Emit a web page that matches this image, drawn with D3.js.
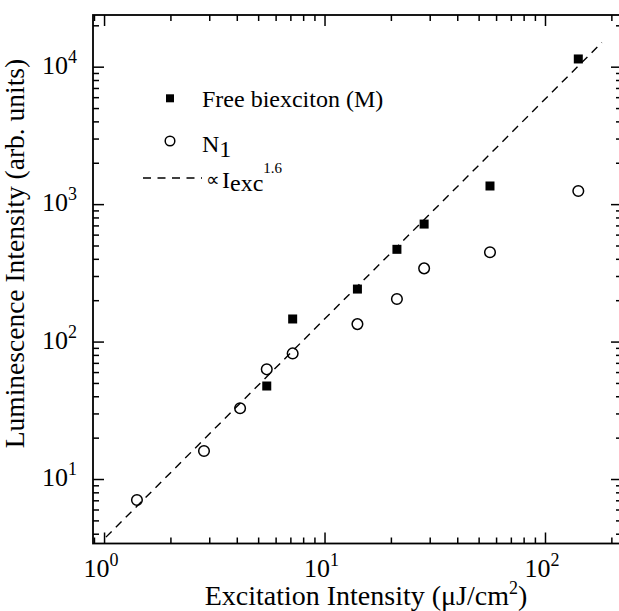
<!DOCTYPE html>
<html><head><meta charset="utf-8">
<script src="https://cdn.jsdelivr.net/npm/d3@7"></script>
<style>body{margin:0;background:#fff;} svg{display:block;} text{font-family:"Liberation Serif","Times New Roman",serif;fill:#000;}</style>
</head><body><svg id="c" width="619" height="611"></svg>
<script>
// Data
const biexcitonX = [5.47, 7.17, 14.1, 21.3, 28.3, 56.3, 141.6];
const biexcitonY = [47.5, 146, 241, 469, 716, 1355, 11380];
const n1X = [1.41, 2.84, 4.14, 5.47, 7.17, 14.1, 21.3, 28.3, 56.3, 141.6];
const n1Y = [7.03, 16.0, 32.7, 62.8, 82, 134, 204, 341, 446, 1246];
const fitExponent = 1.6;
const fitPrefactor = 3.66;
const fitRange = [1.02, 181];
const xDomain = [0.891, 223.5];
const yDomain = [3.395, 23770];
const xMajor = [1, 10, 100];
const yMajor = [10, 100, 1000, 10000];
const xTickExp = ["0", "1", "2"];
const yTickExp = ["1", "2", "3", "4"];
const legendLabels = ["Free biexciton (M)", "N", "\u221d", "I"];

const svg = d3.select("#c");
const L = 93, R = 622, T = 15, B = 543.5;
const x = d3.scaleLog().domain(xDomain).range([L, R]);
const y = d3.scaleLog().domain(yDomain).range([B, T]);

function minors(dom) {
  const out = [];
  for (let p = -1; p <= 5; p++) for (let m = 2; m <= 9; m++) {
    const v = m * Math.pow(10, p);
    if (v >= dom[0] && v <= dom[1]) out.push(v);
  }
  return out;
}
const xMinor = minors(xDomain), yMinor = minors(yDomain);
const MAJ = 11, MIN = 6;

function styleAxis(g) {
  g.select(".domain").remove();
  g.selectAll(".tick line").attr("stroke", "#000").attr("stroke-width", 1.5);
  g.selectAll(".tick text").remove();
}
// bottom
svg.append("g").attr("transform", `translate(0,${B})`).call(d3.axisBottom(x).tickValues(xMajor).tickSize(-MAJ)).call(styleAxis);
svg.append("g").attr("transform", `translate(0,${B})`).call(d3.axisBottom(x).tickValues(xMinor).tickSize(-MIN)).call(styleAxis);
// top
svg.append("g").attr("transform", `translate(0,${T})`).call(d3.axisTop(x).tickValues(xMajor).tickSize(-MAJ)).call(styleAxis);
svg.append("g").attr("transform", `translate(0,${T})`).call(d3.axisTop(x).tickValues(xMinor).tickSize(-MIN)).call(styleAxis);
// left
svg.append("g").attr("transform", `translate(${L},0)`).call(d3.axisLeft(y).tickValues(yMajor).tickSize(-MAJ)).call(styleAxis);
svg.append("g").attr("transform", `translate(${L},0)`).call(d3.axisLeft(y).tickValues(yMinor).tickSize(-MIN)).call(styleAxis);
// right
svg.append("g").attr("transform", `translate(${R},0)`).call(d3.axisRight(y).tickValues(yMajor).tickSize(-MAJ)).call(styleAxis);
svg.append("g").attr("transform", `translate(${R},0)`).call(d3.axisRight(y).tickValues(yMinor).tickSize(-MIN)).call(styleAxis);

// frame
svg.append("rect").attr("x", L).attr("y", T).attr("width", R - L).attr("height", B - T)
  .attr("fill", "none").attr("stroke", "#000").attr("stroke-width", 1.8);

// tick labels
xMajor.forEach((v, i) => {
  const t = svg.append("text").attr("x", x(v) - 3).attr("y", 577).attr("text-anchor", "middle").style("font-size", "26px");
  t.append("tspan").text("10");
  t.append("tspan").attr("dy", -11).style("font-size", "18px").text(xTickExp[i]);
});
yMajor.forEach((v, i) => {
  const t = svg.append("text").attr("x", 77).attr("y", y(v) + 7).attr("text-anchor", "end").style("font-size", "26px");
  t.append("tspan").text("10");
  t.append("tspan").attr("dy", -11).style("font-size", "18px").text(yTickExp[i]);
});

// axis titles
const xt = svg.append("text").attr("x", 366).attr("y", 605).attr("text-anchor", "middle").style("font-size", "28px");
xt.append("tspan").text("Excitation Intensity (\u03bcJ/cm");
xt.append("tspan").attr("dy", -11).style("font-size", "18px").text("2");
xt.append("tspan").attr("dy", 11).text(")");
svg.append("text").attr("transform", `translate(23.5,253.5) rotate(-90)`).attr("text-anchor", "middle")
  .style("font-size", "27.5px").text("Luminescence Intensity (arb. units)");

// fit line
const fitPts = fitRange.map(v => [v, fitPrefactor * Math.pow(v, fitExponent)]);
svg.append("line").attr("x1", x(fitPts[0][0])).attr("y1", y(fitPts[0][1]))
  .attr("x2", x(fitPts[1][0])).attr("y2", y(fitPts[1][1]))
  .attr("stroke", "#000").attr("stroke-width", 1.4).attr("stroke-dasharray", "8,6");

// data
const SQ = 9, RC = 5.3;
svg.append("g").selectAll("rect").data(biexcitonX.map((v, i) => [v, biexcitonY[i]])).join("rect")
  .attr("x", d => x(d[0]) - SQ / 2).attr("y", d => y(d[1]) - SQ / 2).attr("width", SQ).attr("height", SQ).attr("fill", "#000");
svg.append("g").selectAll("circle").data(n1X.map((v, i) => [v, n1Y[i]])).join("circle")
  .attr("cx", d => x(d[0])).attr("cy", d => y(d[1])).attr("r", RC)
  .attr("fill", "none").attr("stroke", "#000").attr("stroke-width", 1.5);

// legend
svg.append("rect").attr("x", 170 - 4).attr("y", 98.3 - 4).attr("width", 8).attr("height", 8).attr("fill", "#000");
svg.append("text").attr("x", 202).attr("y", 107).style("font-size", "24px").text(legendLabels[0]);
svg.append("circle").attr("cx", 170).attr("cy", 141).attr("r", 4.8).attr("fill", "none").attr("stroke", "#000").attr("stroke-width", 1.5);
const nt = svg.append("text").attr("x", 202).attr("y", 151.5).style("font-size", "24px");
nt.append("tspan").text(legendLabels[1]);
nt.append("tspan").attr("dy", 5).text("1");
svg.append("line").attr("x1", 143).attr("x2", 202).attr("y1", 178).attr("y2", 178)
  .attr("stroke", "#000").attr("stroke-width", 1.4).attr("stroke-dasharray", "8,6.5");
svg.append("text").attr("x", 206).attr("y", 186).style("font-size", "19px").text(legendLabels[2]);
const ft = svg.append("text").attr("x", 222).attr("y", 188).style("font-size", "24px");
ft.append("tspan").text(legendLabels[3]);
ft.append("tspan").attr("dy", 3).text("exc");
ft.append("tspan").attr("dy", -18).style("font-size", "15px").text("1.6");
</script></body></html>
